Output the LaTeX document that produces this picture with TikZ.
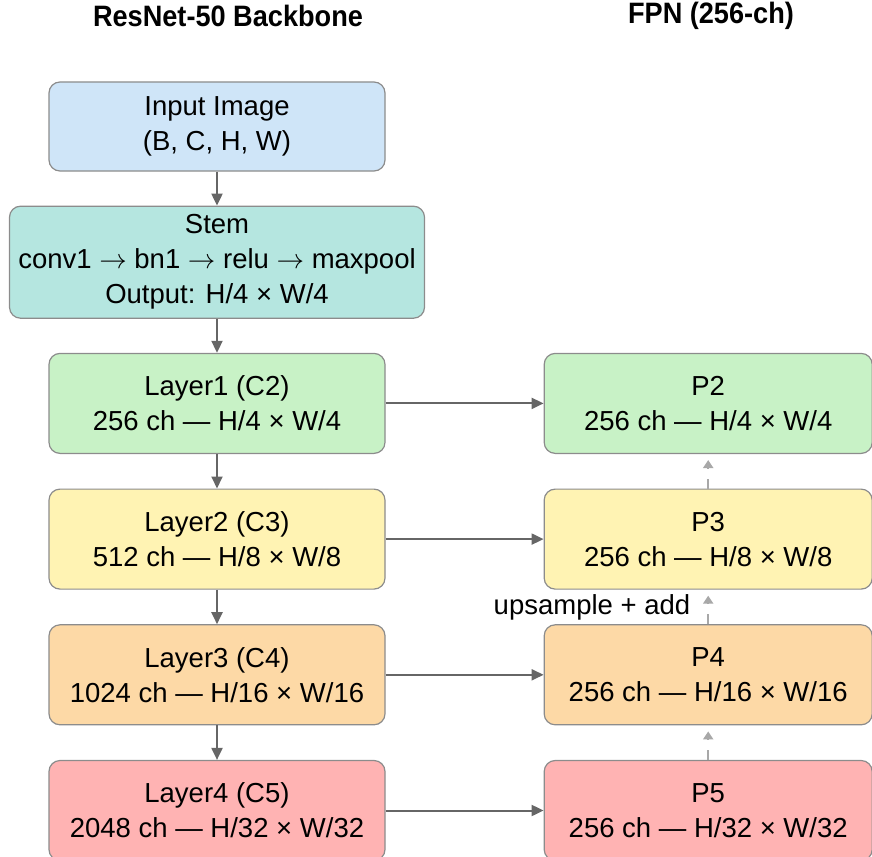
\documentclass[tikz,border=0pt]{standalone}
\usepackage{fix-cm}
\usepackage{fontspec}
\setmainfont{Liberation Sans}
\newfontfamily\titlefont{Liberation Sans}[FakeStretch=0.92]
\usepackage{xcolor}
\usepackage{tikz}
\usetikzlibrary{positioning,arrows.meta}

\definecolor{inputblue}{HTML}{CFE5F8}
\definecolor{stemteal}{HTML}{B5E6E0}
\definecolor{layergreen}{HTML}{C8F2C6}
\definecolor{layeryellow}{HTML}{FFF3B3}
\definecolor{layerorange}{HTML}{FDD9A6}
\definecolor{layerred}{HTML}{FFB3B3}
\definecolor{boxgray}{HTML}{8C8C8C}
\definecolor{arrowgray}{HTML}{666666}
\definecolor{dashgray}{HTML}{A8A8A8}

\tikzset{
    block/.style={draw=boxgray,
        line width=1.2pt,
        rounded corners=11pt,
        align=center,
        inner sep=2pt,
        font=\fontsize{27.5}{35}\selectfont},
    flow/.style={-{Triangle[length=12pt,width=11pt]},
        draw=arrowgray,
        line width=2pt},
    upflow/.style={-{Triangle[length=8pt,width=10pt]},
        draw=dashgray,
        line width=2pt,
        dash pattern=on 10pt off 10pt,
        shorten >=6pt},
    heading/.style={font=\titlefont\bfseries\fontsize{29.5}{35}\selectfont}
}

\begin{document}
\begin{tikzpicture}[x=1pt,y=1pt]

    \useasboundingbox (0,0) rectangle (872,-856);

    \node[heading] (backbonetitle) at (228,-16) {ResNet-50 Backbone};
    \node[heading] (fpntitle) at (711,-16) {FPN (256-ch)};

    \node[block,
        minimum height=89pt,
        minimum width=336pt,
        fill=inputblue]
        (input) at (217,-126.5) {Input Image\\(B, C, H, W)};

    \node[block,
        minimum height=112pt,
        minimum width=415pt,
        below=34pt of input,
        fill=stemteal]
        (stem) {Stem\\conv1 $\rightarrow$ bn1 $\rightarrow$ relu $\rightarrow$ maxpool\\Output: H/4 × W/4};

    \node[block,
        minimum height=100pt,
        minimum width=336pt,
        below=34pt of stem,
        fill=layergreen]
        (layer1) {Layer1 (C2)\\256 ch — H/4 × W/4};

    \node[block,
        minimum height=100pt,
        minimum width=336pt,
        below=34.5pt of layer1,
        fill=layeryellow]
        (layer2) {Layer2 (C3)\\512 ch — H/8 × W/8};

    \node[block,
        minimum height=100pt,
        minimum width=336pt,
        below=34.5pt of layer2,
        fill=layerorange]
        (layer3) {Layer3 (C4)\\1024 ch — H/16 × W/16};

    \node[block,
        minimum height=100pt,
        minimum width=336pt,
        below=34.5pt of layer3,
        fill=layerred]
        (layer4) {Layer4 (C5)\\2048 ch — H/32 × W/32};

    \node[block,
        minimum height=100pt,
        minimum width=328pt,
        right=158pt of layer1,
        fill=layergreen]
        (p2) {P2\\256 ch — H/4 × W/4};

    \node[block,
        minimum height=100pt,
        minimum width=328pt,
        right=158pt of layer2,
        fill=layeryellow]
        (p3) {P3\\256 ch — H/8 × W/8};

    \node[block,
        minimum height=100pt,
        minimum width=328pt,
        right=158pt of layer3,
        fill=layerorange]
        (p4) {P4\\256 ch — H/16 × W/16};

    \node[block,
        minimum height=100pt,
        minimum width=328pt,
        right=158pt of layer4,
        fill=layerred]
        (p5) {P5\\256 ch — H/32 × W/32};

    \draw[flow] (input.south) -- (stem.north);
    \draw[flow] (stem.south) -- (layer1.north);
    \draw[flow] (layer1.south) -- (layer2.north);
    \draw[flow] (layer2.south) -- (layer3.north);
    \draw[flow] (layer3.south) -- (layer4.north);

    \draw[flow] (layer1.east) -- (p2.west);
    \draw[flow] (layer2.east) -- (p3.west);
    \draw[flow] (layer3.east) -- (p4.west);
    \draw[flow] (layer4.east) -- (p5.west);

    \draw[upflow] (p5.north) -- (p4.south);
    \draw[upflow] (p4.north) -- (p3.south)
        node[midway,left=15pt,inner sep=2pt,solid,
            font=\fontsize{27.5}{35}\selectfont]{upsample + add};
    \draw[upflow] (p3.north) -- (p2.south);

\end{tikzpicture}
\end{document}
